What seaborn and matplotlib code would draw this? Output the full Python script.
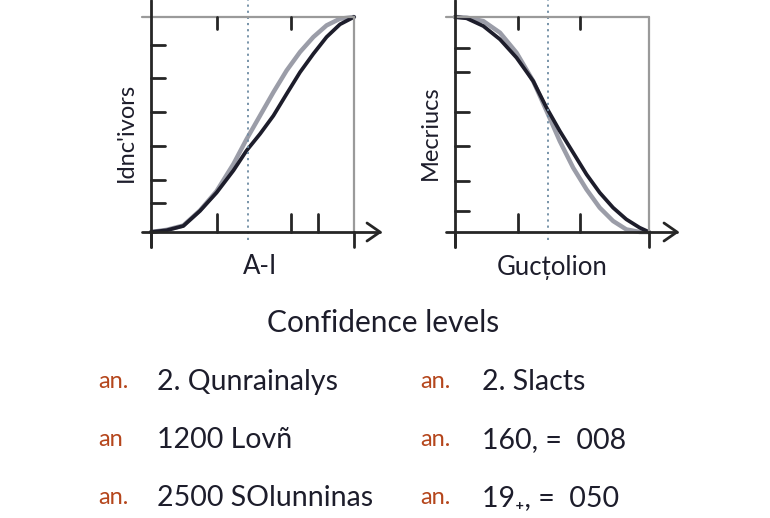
import matplotlib
matplotlib.use("Agg")
import matplotlib.pyplot as plt
import seaborn as sns
import pandas as pd
from matplotlib.lines import Line2D

sns.set_style("white")
plt.rcParams['font.family'] = ['Lato', 'DejaVu Sans']

# ---- data (normalised axis units) ----
left_x_black = [0, 0.077, 0.159, 0.241, 0.323, 0.406, 0.471, 0.537, 0.603, 0.668, 0.734, 0.800, 0.865, 0.931, 1.0]
left_y_black = [0, 0.008, 0.028, 0.098, 0.183, 0.286, 0.379, 0.456, 0.541, 0.642, 0.743, 0.829, 0.907, 0.966, 1.0]
left_x_gray = [0, 0.077, 0.159, 0.241, 0.323, 0.406, 0.471, 0.537, 0.603, 0.668, 0.734, 0.800, 0.865, 0.931, 1.0]
left_y_gray = [0, 0.010, 0.030, 0.100, 0.190, 0.316, 0.432, 0.541, 0.650, 0.751, 0.837, 0.907, 0.961, 0.992, 1.0]

right_x_black = [0, 0.060, 0.146, 0.232, 0.317, 0.403, 0.472, 0.540, 0.609, 0.678, 0.746, 0.815, 0.883, 0.952, 1.0]
right_y_black = [1.0, 0.994, 0.958, 0.896, 0.811, 0.702, 0.578, 0.470, 0.369, 0.268, 0.183, 0.113, 0.059, 0.020, 0.0]
right_x_gray = [0, 0.060, 0.146, 0.232, 0.317, 0.403, 0.472, 0.540, 0.609, 0.678, 0.746, 0.815, 0.883, 0.952, 1.0]
right_y_gray = [1.0, 0.997, 0.981, 0.927, 0.834, 0.702, 0.563, 0.423, 0.299, 0.198, 0.113, 0.051, 0.012, 0.0, 0.0]

left_yticks = [0.135, 0.242, 0.40, 0.558, 0.716, 0.87]
left_xticks_in = [0.325, 0.69, 0.823]
right_yticks = [0.098, 0.237, 0.40, 0.558, 0.744, 0.856]
right_xticks_in = [0.325, 0.644]
ref_left = 0.478
ref_right = 0.48

xlabels = ["A-I", "Gucțolion"]
ylabels = ["Idnc'ivors", "Mecriucs"]
title = "Confidence levels"
bullets_left = ["an.", "an", "an."]
items_left = ["2. Qunrainalys", "1200 Lovñ", "2500 SOlunninas"]
bullets_right = ["an.", "an.", "an."]
items_right = ["2. Slacts", "160, =  008", "19\u208a, =  050"]

DARK = "#1d1d2b"
GRAY = "#9b9da8"
FRAME = "#9a9a9a"
AXC = "#262626"
ORANGE = "#b5461c"

fig = plt.figure(figsize=(7.70, 5.18), dpi=100)
fig.patch.set_facecolor("white")

axL = fig.add_axes([151/770, 1-232/518, 203/770, 215/518])
axR = fig.add_axes([455/770, 1-232/518, 194/770, 215/518])

panels = [
    (axL, left_x_gray, left_y_gray, left_x_black, left_y_black, left_yticks, left_xticks_in, ref_left, 0, 380/770),
    (axR, right_x_gray, right_y_gray, right_x_black, right_y_black, right_yticks, right_xticks_in, ref_right, 1, 677/770),
]

for ax, xg, yg, xb, yb, yt, xt, ref, i, arrow_end in panels:
    df = pd.concat([
        pd.DataFrame({"x": xg, "y": yg, "s": "gray"}),
        pd.DataFrame({"x": xb, "y": yb, "s": "black"}),
    ])
    sns.lineplot(data=df, x="x", y="y", hue="s", palette={"gray": GRAY, "black": DARK},
                 ax=ax, legend=False, sort=False, estimator=None, linewidth=2.8)
    for ln, lw in zip(ax.get_lines(), [3.2, 2.7]):
        ln.set_linewidth(lw)
        ln.set_solid_capstyle("round")
        ln.set_solid_joinstyle("round")
        ln.set_clip_on(False)
    ax.set_xlim(0, 1)
    ax.set_ylim(0, 1)
    ax.set_facecolor("none")
    for s in ax.spines.values():
        s.set_visible(False)
    ax.set_xticks([])
    ax.set_yticks([])
    ax.set_xlabel("")
    ax.set_ylabel("")
    bbox = ax.get_position()
    w, h = bbox.width, bbox.height
    def fx(v):
        return bbox.x0 + v * w
    def fy(v):
        return bbox.y0 + v * h
    tr = fig.transFigure
    # frame: top and right (gray)
    fig.add_artist(Line2D([fx(0) - 9/770, fx(1)], [fy(1), fy(1)], transform=tr, color=FRAME, lw=1.6, zorder=1))
    fig.add_artist(Line2D([fx(1), fx(1)], [fy(0), fy(1)], transform=tr, color=FRAME, lw=1.6, zorder=1))
    # y axis
    fig.add_artist(Line2D([fx(0), fx(0)], [fy(0) - 15/518, 1.0], transform=tr, color=AXC, lw=2.0))
    # x axis with arrow
    fig.add_artist(Line2D([fx(0) - 9/770, arrow_end], [fy(0), fy(0)], transform=tr, color=AXC, lw=2.0))
    fig.add_artist(Line2D([arrow_end - 13/770, arrow_end, arrow_end - 13/770],
                          [fy(0) + 9/518, fy(0), fy(0) - 9/518], transform=tr, color=AXC, lw=2.0))
    # y ticks inward
    for v in yt:
        fig.add_artist(Line2D([fx(0), fx(0) + 14/770], [fy(v), fy(v)], transform=tr, color=AXC, lw=2.0))
    # x ticks: inward from bottom and top
    for v in xt:
        fig.add_artist(Line2D([fx(v), fx(v)], [fy(0), fy(0) + 18/518], transform=tr, color=AXC, lw=2.0))
    for v in xt[:2]:
        fig.add_artist(Line2D([fx(v), fx(v)], [fy(1), fy(1) - 12/518], transform=tr, color=AXC, lw=2.0))
    # end ticks downward
    for v in [0, 1]:
        fig.add_artist(Line2D([fx(v), fx(v)], [fy(0), fy(0) - 15/518], transform=tr, color=AXC, lw=2.0))
    # dotted reference line
    fig.add_artist(Line2D([fx(ref), fx(ref)], [fy(0) - 8/518, 1.0], transform=tr,
                          color="#6d8ba3", lw=1.3, ls=(0, (1.2, 2.2)), zorder=0.5))
    # labels
    fig.text(fx(0.5) + (8/770 if i == 0 else 0/770), fy(0) - 35/518, xlabels[i],
             ha="center", va="center", fontsize=18.5, color=DARK)
    fig.text(fx(0) - 25/770, fy(0.5) - 8/518, ylabels[i], rotation=90,
             ha="center", va="center", fontsize=17, color=DARK)

fig.text(383/770, 1-323/518, title, ha="center", va="center", fontsize=21.5, color=DARK)

rows_y = [382, 440, 498]
for k, yy in enumerate(rows_y):
    fig.text(98/770, 1-yy/518, bullets_left[k], ha="left", va="center", fontsize=17, color=ORANGE)
    fig.text(157/770, 1-yy/518, items_left[k], ha="left", va="center", fontsize=20.5, color=DARK)
    fig.text(420/770, 1-yy/518, bullets_right[k], ha="left", va="center", fontsize=17, color=ORANGE)
    fig.text(482/770, 1-yy/518, items_right[k], ha="left", va="center", fontsize=20.5, color=DARK)

fig.savefig("out.png", dpi=100, facecolor="white")
